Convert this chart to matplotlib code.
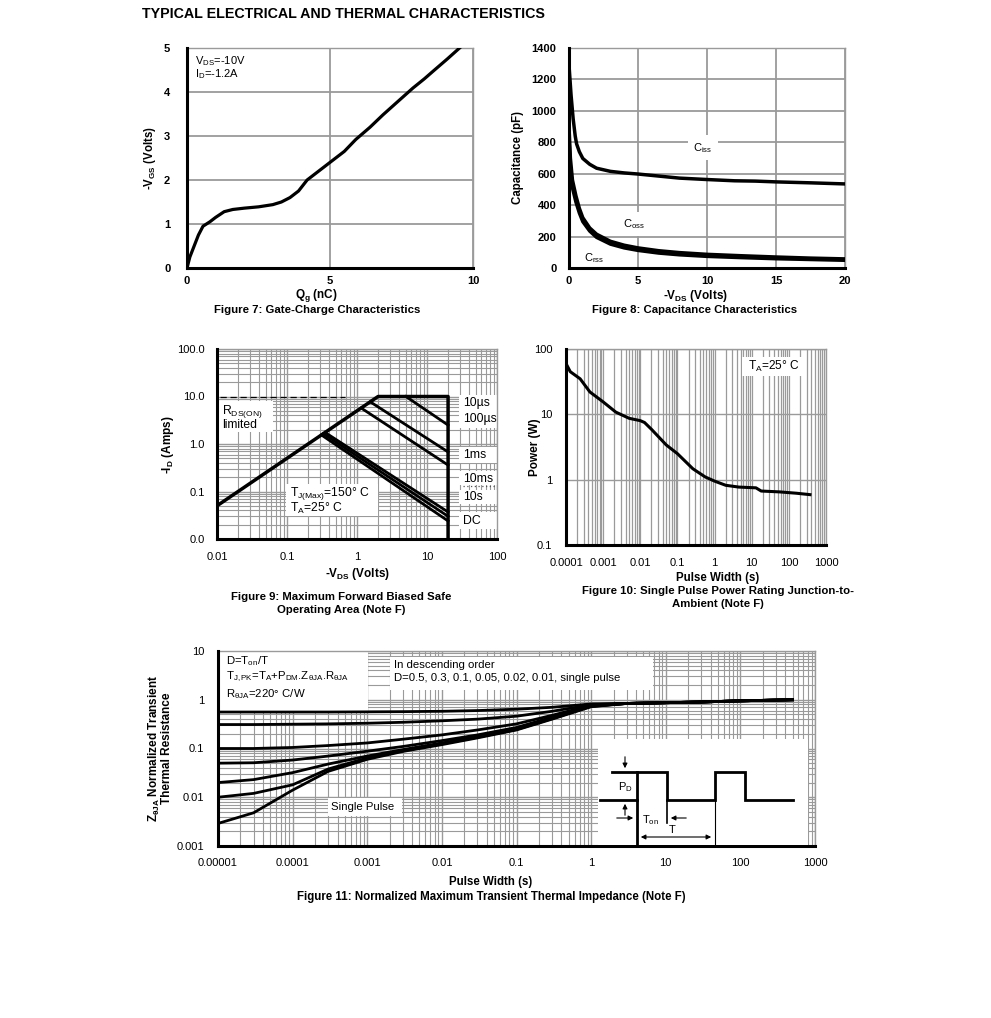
import numpy as np
import matplotlib
matplotlib.use("Agg")
import matplotlib.pyplot as plt
from matplotlib.patches import Rectangle
from matplotlib.ticker import LogLocator, NullFormatter

plt.rcParams['font.family'] = 'Liberation Sans'
plt.rcParams['mathtext.fontset'] = 'custom'
plt.rcParams['mathtext.rm'] = 'Liberation Sans'
plt.rcParams['mathtext.it'] = 'Liberation Sans:italic'
plt.rcParams['mathtext.bf'] = 'Liberation Sans:bold'

W, H = 991, 1018

# ----- Figure 7: gate charge -----
qg = [0, 0.1, 0.25, 0.4, 0.56, 0.8, 1.0, 1.3, 1.6, 2.0, 2.5, 3.0, 3.3, 3.6, 3.9, 4.2,
      4.6, 5.0, 5.5, 5.9, 6.4, 6.85, 7.4, 7.9, 8.3, 8.6, 9.1, 9.53]
vgs = [0, 0.25, 0.5, 0.75, 0.95, 1.05, 1.15, 1.28, 1.33, 1.36, 1.39, 1.44, 1.5, 1.6, 1.75, 2.0,
       2.2, 2.4, 2.65, 2.92, 3.2, 3.48, 3.8, 4.09, 4.3, 4.47, 4.75, 5.0]

# ----- Figure 8: capacitance -----
v_ciss = [0, 0.15, 0.3, 0.45, 0.55, 0.75, 1.0, 1.5, 2, 3, 4, 5, 6.5, 8, 10, 12, 13.5, 15, 17.5, 20]
ciss = [1290, 1100, 950, 840, 790, 740, 697, 660, 635, 615, 605, 598, 585, 572, 563, 555, 553, 548, 542, 535]
v_cap = [0, 0.1, 0.25, 0.5, 0.75, 1, 1.5, 2, 3, 4, 5, 6.5, 8, 10, 12.5, 15, 17.5, 20]
coss = [900, 700, 560, 460, 380, 320, 255, 215, 170, 145, 128, 110, 98, 87, 78, 70, 63, 58]
crss = [820, 640, 510, 420, 350, 295, 235, 195, 152, 128, 112, 95, 84, 74, 66, 59, 54, 49]

# ----- Figure 9: safe operating area -----
env_v = [0.01, 2, 20, 20]
env_i = [0.05, 10, 10, 0.01]
soa_v = {'10us': [5, 20], '100us': [1.55, 20], '1ms': [1.15, 20],
         '10ms': [0.35, 20], '10s': [0.33, 20], 'DC': [0.31, 20]}
soa_i = {'10us': [10, 2.5], '100us': [7.7, 0.68], '1ms': [5.7, 0.36],
         '10ms': [1.75, 0.037], '10s': [1.65, 0.03], 'DC': [1.55, 0.024]}
rds_dash_v = [0.011, 0.68]
rds_dash_i = [10, 10]

# ----- Figure 10: single pulse power -----
pw = [1e-4, 1.3e-4, 2.4e-4, 4.4e-4, 1e-3, 2.2e-3, 5e-3, 1e-2, 1.3e-2, 2e-2, 5e-2, 0.1,
      0.26, 0.56, 1, 2, 4.5, 13, 18, 56, 160, 370]
pwr = [60, 45, 35, 22, 15.5, 10.8, 8.7, 8.0, 7.5, 5.9, 3.4, 2.5,
       1.47, 1.1, 0.95, 0.82, 0.77, 0.75, 0.67, 0.65, 0.62, 0.59]

# ----- Figure 11: transient thermal impedance -----
zt = [1e-5, 3e-5, 1e-4, 3e-4, 1e-3, 3e-3, 1e-2, 3e-2, 0.1, 0.3, 1, 3, 10, 30, 100, 500]
tail = [0.84, 0.87, 0.9, 0.95, 1.0]
z_d05 = [0.56, 0.56, 0.56, 0.56, 0.565, 0.57, 0.58, 0.6, 0.64, 0.7, 0.82] + tail
z_d03 = [0.31, 0.31, 0.315, 0.32, 0.33, 0.345, 0.37, 0.4, 0.46, 0.58, 0.79] + tail
z_d01 = [0.1, 0.1, 0.105, 0.115, 0.13, 0.155, 0.19, 0.24, 0.32, 0.48, 0.77] + tail
z_d005 = [0.05, 0.051, 0.058, 0.07, 0.088, 0.11, 0.145, 0.19, 0.27, 0.44, 0.75] + tail
z_d002 = [0.02, 0.023, 0.032, 0.048, 0.07, 0.095, 0.13, 0.175, 0.25, 0.42, 0.74] + tail
z_d001 = [0.01, 0.012, 0.018, 0.038, 0.064, 0.09, 0.125, 0.17, 0.245, 0.41, 0.73] + tail
z_single = [0.0029, 0.0048, 0.014, 0.034, 0.06, 0.087, 0.12, 0.165, 0.24, 0.4, 0.72] + tail

GRID = '#9a9a9a'
FS = 8.2      # body text size
TS = 8.0      # tick label size

fig = plt.figure(figsize=(W / 100, H / 100), dpi=100)


def add_ax(l, t, r, b):
    return fig.add_axes([l / W, 1 - b / H, (r - l) / W, (b - t) / H])


def ftext(x, y, s, **kw):
    kw.setdefault('fontsize', FS)
    return fig.text(x / W, 1 - y / H, s, **kw)


def white_box(ax, x0, y0, x1, y1):
    ax.add_patch(Rectangle((x0 / W, 1 - y1 / H), (x1 - x0) / W, (y1 - y0) / H,
                           transform=fig.transFigure, facecolor='white',
                           edgecolor='none', zorder=2))


def frame(ax):
    for s in ['left', 'bottom']:
        ax.spines[s].set_linewidth(2.2)
        ax.spines[s].set_zorder(5)
    for s in ['top', 'right']:
        ax.spines[s].set_color(GRID)
        ax.spines[s].set_linewidth(1.0)
    ax.tick_params(which='both', length=0, labelsize=TS)
    ax.tick_params(axis='x', pad=9)
    ax.tick_params(axis='y', pad=12)


def log_minor(axis):
    axis.set_minor_locator(LogLocator(base=10, subs=np.arange(2, 10), numticks=100))
    axis.set_minor_formatter(NullFormatter())


ftext(142, 14, 'TYPICAL ELECTRICAL AND THERMAL CHARACTERISTICS',
      fontsize=10.3, fontweight='bold', va='center')

# ----- Figure 7 -----
ax7 = add_ax(187, 48, 473, 268)
ax7.plot(qg, vgs, color='black', lw=2.3, zorder=3)
ax7.set_xlim(0, 10)
ax7.set_ylim(0, 5)
ax7.set_xticks([0, 5, 10], ['0', '5', '10'], fontweight='bold')
ax7.set_yticks([0, 1, 2, 3, 4, 5], ['0', '1', '2', '3', '4', '5'], fontweight='bold')
ax7.grid(True, color=GRID, lw=1.3)
frame(ax7)
ax7.tick_params(axis='x', pad=6)
ftext(195, 61, 'V$_{\\mathrm{DS}}$=-10V', fontsize=8, va='center')
ftext(195, 74, 'I$_{\\mathrm{D}}$=-1.2A', fontsize=8, va='center')
ftext(150, 158, '-V$_{\\mathbf{GS}}$ (Volts)', rotation=90, fontsize=8.3,
      fontweight='bold', ha='center', va='center')
ftext(316, 296, 'Q$_{\\mathbf{g}}$ (nC)', fontsize=8.5, fontweight='bold', ha='center', va='center')
ftext(317, 310, 'Figure 7: Gate-Charge Characteristics', fontweight='bold',
      ha='center', va='center')

# ----- Figure 8 -----
ax8 = add_ax(569, 48, 845, 268)
ax8.plot(v_ciss, ciss, color='black', lw=2.5, zorder=3)
ax8.plot(v_cap, coss, color='black', lw=2.5, zorder=3)
ax8.plot(v_cap, crss, color='black', lw=2.5, zorder=3)
ax8.set_xlim(0, 20)
ax8.set_ylim(0, 1400)
ax8.set_xticks([0, 5, 10, 15, 20], ['0', '5', '10', '15', '20'], fontweight='bold')
yt8 = [0, 200, 400, 600, 800, 1000, 1200, 1400]
ax8.set_yticks(yt8, [str(v) for v in yt8], fontweight='bold')
ax8.grid(True, color=GRID, lw=1.3)
frame(ax8)
ax8.tick_params(axis='x', pad=6)
ax8.tick_params(axis='y', pad=9)
box = dict(facecolor='white', edgecolor='none', pad=4)
ax8.text(9.7, 764, 'C$_{\\mathrm{iss}}$', fontsize=8, ha='center', va='center', bbox=box, zorder=4)
ax8.text(4.7, 280, 'C$_{\\mathrm{oss}}$', fontsize=8, ha='center', va='center', bbox=box, zorder=4)
ax8.text(1.8, 60, 'C$_{\\mathrm{rss}}$', fontsize=8, ha='center', va='center', zorder=4)
ftext(518, 158, 'Capacitance (pF)', rotation=90, fontsize=8.3, fontweight='bold',
      ha='center', va='center')
ftext(695, 296, '-V$_{\\mathbf{DS}}$ (Volts)', fontsize=8.5, fontweight='bold', ha='center', va='center')
ftext(695, 310, 'Figure 8: Capacitance Characteristics', fontweight='bold',
      ha='center', va='center')

# ----- Figure 9 -----
ax9 = add_ax(217, 349, 497, 539)
ax9.set_xscale('log')
ax9.set_yscale('log')
ax9.set_xlim(0.01, 100)
ax9.set_ylim(0.01, 100)
ax9.plot(env_v, env_i, color='black', lw=2.5, zorder=3)
for k in soa_v:
    ax9.plot(soa_v[k], soa_i[k], color='black', lw=2.0, zorder=3)
ax9.plot(rds_dash_v, rds_dash_i, color='black', lw=0.9, ls=(0, (5, 3)), zorder=3)
ax9.set_xticks([0.01, 0.1, 1, 10, 100], ['0.01', '0.1', '1', '10', '100'])
ax9.set_yticks([0.01, 0.1, 1, 10, 100], ['0.0', '0.1', '1.0', '10.0', '100.0'])
log_minor(ax9.xaxis)
log_minor(ax9.yaxis)
ax9.grid(True, which='major', color=GRID, lw=1.0)
ax9.grid(True, which='minor', color=GRID, lw=0.8)
frame(ax9)
ax9.tick_params(axis='y', pad=9)
white_box(ax9, 219, 401, 273, 432)
white_box(ax9, 286, 484, 378, 516)
white_box(ax9, 459, 395, 497, 428)
white_box(ax9, 459, 447, 497, 463)
white_box(ax9, 459, 471, 497, 485)
white_box(ax9, 459, 490, 497, 504)
white_box(ax9, 459, 512, 497, 529)
ftext(222, 412, 'R$_{\\mathrm{DS(ON)}}$', fontsize=8.7, va='center', zorder=6)
ftext(222, 425, 'limited', fontsize=8.7, va='center', zorder=6)
ftext(290, 493, 'T$_{\\mathrm{J(Max)}}$=150° C', fontsize=8.7, va='center', zorder=6)
ftext(290, 508, 'T$_{\\mathrm{A}}$=25° C', fontsize=8.7, va='center', zorder=6)
for lab, y in [('10µs', 403), ('100µs', 419), ('1ms', 455), ('10ms', 479),
               ('10s', 497), ('DC', 521)]:
    ftext(463, y, lab, fontsize=8.8, va='center', zorder=6)
fig.add_artist(plt.Line2D([463 / W, 496 / W], [1 - 486 / H, 1 - 486 / H],
                          color='#555555', lw=0.9, ls=(0, (1, 2))))
ftext(168, 445, '-I$_{\\mathbf{D}}$ (Amps)', rotation=90, fontsize=8.5, fontweight='bold',
      ha='center', va='center')
ftext(357, 574, '-V$_{\\mathbf{DS}}$ (Volts)', fontsize=8.5, fontweight='bold', ha='center', va='center')
ftext(341, 597, 'Figure 9: Maximum Forward Biased Safe', fontweight='bold',
      ha='center', va='center')
ftext(341, 610, 'Operating Area (Note F)', fontweight='bold', ha='center', va='center')

# ----- Figure 10 -----
ax10 = add_ax(566, 349, 826, 545)
ax10.set_xscale('log')
ax10.set_yscale('log')
ax10.set_xlim(1e-4, 1000)
ax10.set_ylim(0.1, 100)
ax10.plot(pw, pwr, color='black', lw=2.2, zorder=3)
xt10 = [1e-4, 1e-3, 1e-2, 0.1, 1, 10, 100, 1000]
ax10.set_xticks(xt10, ['0.0001', '0.001', '0.01', '0.1', '1', '10', '100', '1000'])
ax10.set_yticks([0.1, 1, 10, 100], ['0.1', '1', '10', '100'])
log_minor(ax10.xaxis)
log_minor(ax10.yaxis)
ax10.xaxis.grid(True, which='both', color=GRID, lw=0.9)
ax10.yaxis.grid(True, which='major', color=GRID, lw=1.0)
frame(ax10)
ax10.tick_params(axis='y', pad=10)
white_box(ax10, 742, 357, 803, 376)
ftext(748, 366, 'T$_{\\mathrm{A}}$=25° C', fontsize=8.6, va='center', zorder=6)
ftext(535, 447, 'Power (W)', rotation=90, fontsize=8.5, fontweight='bold',
      ha='center', va='center')
ftext(718, 578, 'Pulse Width (s)', fontsize=8.3, fontweight='bold', ha='center', va='center')
ftext(718, 591, 'Figure 10: Single Pulse Power Rating Junction-to-', fontweight='bold',
      ha='center', va='center')
ftext(718, 604, 'Ambient (Note F)', fontweight='bold', ha='center', va='center')

# ----- Figure 11 -----
ax11 = add_ax(218, 651, 815, 846)
ax11.set_xscale('log')
ax11.set_yscale('log')
ax11.set_xlim(1e-5, 1000)
ax11.set_ylim(0.001, 10)
for z in [z_d05, z_d03, z_d01, z_d005, z_d002, z_d001, z_single]:
    ax11.plot(zt, z, color='black', lw=2.0, zorder=3)
xt11 = [1e-5, 1e-4, 1e-3, 1e-2, 0.1, 1, 10, 100, 1000]
ax11.set_xticks(xt11, ['0.00001', '0.0001', '0.001', '0.01', '0.1', '1', '10', '100', '1000'])
ax11.set_yticks([0.001, 0.01, 0.1, 1, 10], ['0.001', '0.01', '0.1', '1', '10'])
log_minor(ax11.xaxis)
log_minor(ax11.yaxis)
ax11.grid(True, which='major', color=GRID, lw=1.0)
ax11.grid(True, which='minor', color=GRID, lw=0.8)
frame(ax11)
ax11.tick_params(axis='y', pad=10)
white_box(ax11, 220, 652, 368, 712)
white_box(ax11, 390, 657, 653, 690)
white_box(ax11, 328, 798, 402, 816)
ftext(226, 661, 'D=T$_{\\mathrm{on}}$/T', va='center', zorder=6)
ftext(226, 677, 'T$_{\\mathrm{J,PK}}$=T$_{\\mathrm{A}}$+P$_{\\mathrm{DM}}$.Z$_{\\mathrm{θJA}}$.R$_{\\mathrm{θJA}}$',
      va='center', zorder=6)
ftext(226, 694, 'R$_{\\mathrm{θJA}}$=220° C/W', va='center', zorder=6)
ftext(394, 665, 'In descending order', va='center', zorder=6)
ftext(394, 678, 'D=0.5, 0.3, 0.1, 0.05, 0.02, 0.01, single pulse', va='center', zorder=6)
ftext(331, 807, 'Single Pulse', va='center', zorder=6)
ftext(154, 748, 'Z$_{\\mathbf{θJA}}$ Normalized Transient', rotation=90, fontsize=8.5,
      fontweight='bold', ha='center', va='center')
ftext(167, 748, 'Thermal Resistance', rotation=90, fontsize=8.5,
      fontweight='bold', ha='center', va='center')
ftext(491, 882, 'Pulse Width (s)', fontsize=8.3, fontweight='bold', ha='center', va='center')
ftext(491, 897, 'Figure 11: Normalized Maximum Transient Thermal Impedance (Note F)',
      fontsize=8.3, fontweight='bold', ha='center', va='center')

# pulse sketch inset (schematic, in pixel units)
axi = add_ax(598, 739, 808, 845)
axi.set_xlim(598, 808)
axi.set_ylim(845, 739)
axi.set_xticks([])
axi.set_yticks([])
for s in axi.spines.values():
    s.set_visible(False)
wave_x = [637, 637, 667, 667, 715, 715, 745, 745, 793]
wave_y = [845, 772, 772, 800, 800, 772, 772, 800, 800]
axi.plot(wave_x, wave_y, color='black', lw=2.0, solid_joinstyle='miter')
axi.plot([612, 637], [772, 772], color='black', lw=2.0)
axi.plot([600, 637], [800, 800], color='black', lw=2.0)
axi.plot([715, 715], [800, 845], color='black', lw=0.8)
axi.plot([667, 667], [800, 823], color='black', lw=1.2)
arr = dict(arrowstyle='-|>', color='black', lw=0.8, mutation_scale=7)
axi.annotate('', xy=(625, 771), xytext=(625, 754), arrowprops=arr)
axi.annotate('', xy=(625, 801), xytext=(625, 818), arrowprops=arr)
axi.annotate('', xy=(636, 818), xytext=(614, 818), arrowprops=arr)
axi.annotate('', xy=(668, 818), xytext=(689, 818), arrowprops=arr)
axi.annotate('', xy=(638, 837), xytext=(714, 837),
             arrowprops=dict(arrowstyle='<|-|>', color='black', lw=0.8, mutation_scale=7))
axi.text(625, 787, 'P$_{\\mathrm{D}}$', fontsize=8, ha='center', va='center')
axi.text(650, 820, 'T$_{\\mathrm{on}}$', fontsize=8, ha='center', va='center')
axi.text(672, 830, 'T', fontsize=8, ha='center', va='center')

fig.savefig('out.png', dpi=100)
